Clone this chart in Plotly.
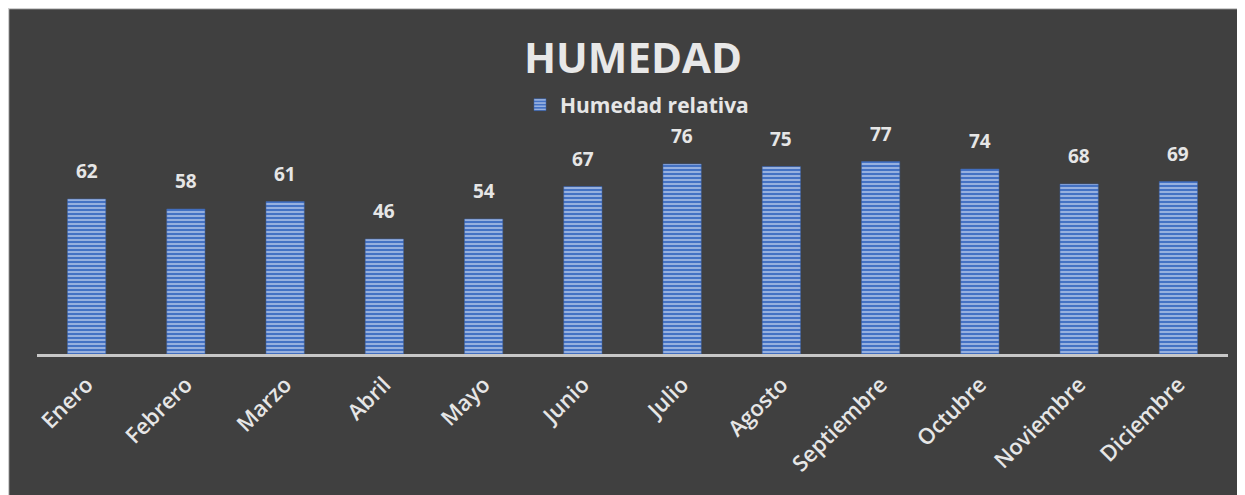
import plotly.graph_objects as go

months = ["Enero", "Febrero", "Marzo", "Abril", "Mayo", "Junio", "Julio",
          "Agosto", "Septiembre", "Octubre", "Noviembre", "Diciembre"]
humedad = [62, 58, 61, 46, 54, 67, 76, 75, 77, 74, 68, 69]

# figure is drawn with the page's 8px body offset; coordinates below are figure pixels
W, H = 1245, 495
L, R, T, B = 29, 25, 146, 149
PW = W - L - R
PH = H - T - B

def px(p):
    return (p - L) / PW

def py(q):
    return (H - B - q) / PH

FONT = "Open Sans"
TXT = "#e6e6e6"

fig = go.Figure()
fig.add_trace(go.Bar(
    x=months, y=humedad, name="Humedad relativa",
    marker=dict(color="#4a76c6",
                line=dict(color="#3d64ad", width=0.5),
                pattern=dict(shape="-", fgcolor="#e8eef9", bgcolor="#4472c4",
                             size=4, solidity=0.5, fillmode="overlay")),
    width=0.385,
))

annotations = [
    dict(x=m, y=v, xref="x", yref="y", text=str(v), showarrow=False,
         yanchor="bottom", yshift=13,
         font=dict(family=FONT, size=19, color=TXT, weight="bold"))
    for m, v in zip(months, humedad)
]

shapes = [
    dict(type="line", xref="paper", yref="paper", x0=px(0), x1=px(W), y0=py(0.5), y1=py(0.5),
         line=dict(color="#cfcfcf", width=1.5)),
    dict(type="line", xref="paper", yref="paper", x0=px(0.5), x1=px(0.5), y0=py(0), y1=py(H),
         line=dict(color="#cfcfcf", width=1.5)),
]

fig.update_layout(
    width=W, height=H,
    margin=dict(l=L, r=R, t=T, b=B),
    paper_bgcolor="#404040", plot_bgcolor="#404040",
    title=dict(text="HUMEDAD", x=625 / W, xanchor="center", y=1 - 50 / H, yanchor="middle",
               font=dict(family=FONT, size=42, color="#e8e8e8", weight="bold")),
    showlegend=True,
    legend=dict(orientation="h", x=px(629), xanchor="center", y=py(97), yanchor="middle",
                font=dict(family=FONT, size=21, color=TXT, weight="bold"),
                bgcolor="rgba(0,0,0,0)", itemwidth=30),
    bargap=0.615,
    xaxis=dict(showgrid=False, showline=True, linecolor="#c8c8c8", linewidth=3,
               ticks="", tickangle=-45, ticklabelstandoff=6,
               tickfont=dict(family=FONT, size=22, color=TXT, weight=600)),
    yaxis=dict(range=[0, 80], visible=False, showgrid=False, zeroline=False),
    shapes=shapes,
    annotations=annotations,
)

fig.write_html("out.html")
